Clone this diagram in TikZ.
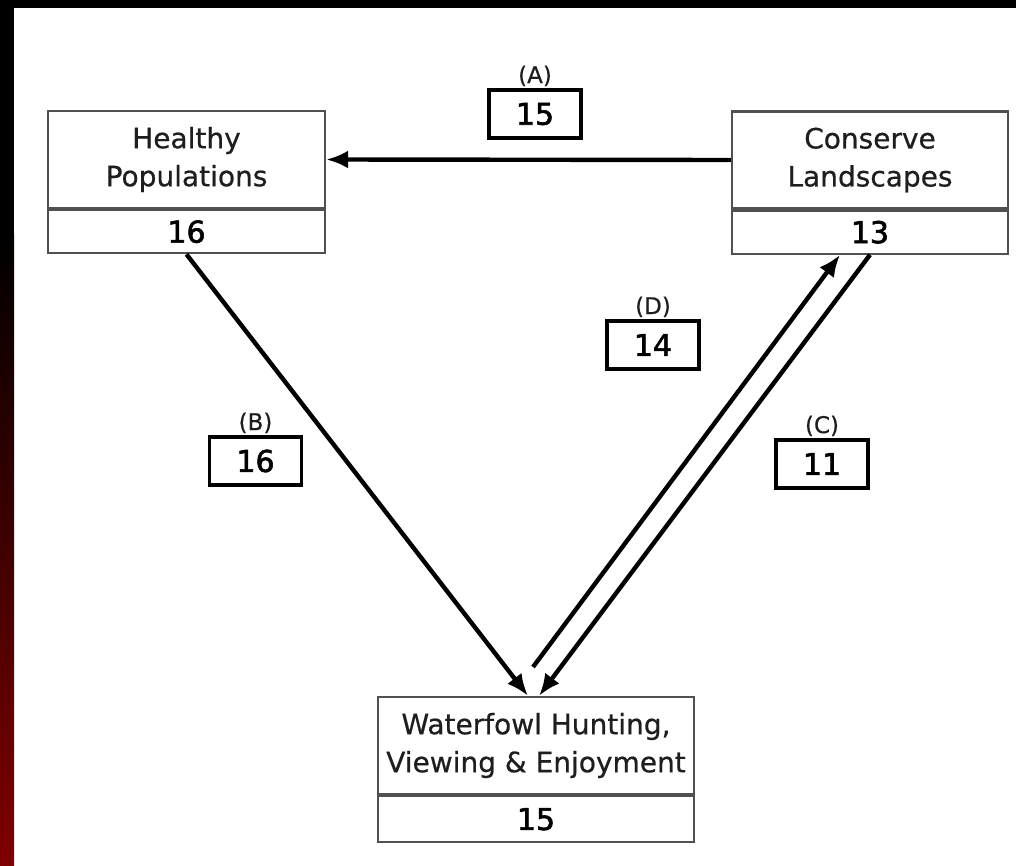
\documentclass[tikz,border=0pt]{standalone}
\usepackage{fontspec}
\setmainfont{DejaVu Sans}[FakeBold=0.6]
\newfontfamily\numfont{DejaVu Sans}[FakeBold=2]
\usetikzlibrary{arrows.meta,positioning}
\definecolor{boxline}{HTML}{505050}
\definecolor{textgray}{HTML}{1E1E1E}
\definecolor{stripred}{HTML}{800000}
\tikzset{
  goalbox/.style={draw=boxline, line width=2.2pt, minimum width=277pt,
                  minimum height=97pt, inner sep=0pt, align=center,
                  text=textgray, font=\fontsize{28}{38}\selectfont},
  scorebox/.style={draw=boxline, line width=2.2pt, minimum width=277pt,
                   minimum height=43pt, inner sep=0pt,
                   font=\numfont\fontsize{30}{32}\selectfont},
  linkbox/.style={draw, line width=3.4pt, minimum width=92pt,
                  minimum height=48pt, inner sep=0pt,
                  font=\numfont\fontsize{30}{32}\selectfont},
  linktag/.style={inner sep=1pt, text=textgray, font=\fontsize{23}{25}\selectfont},
  link/.style={line width=4.4pt, -{Latex[length=22pt,width=18pt]}},
}

\begin{document}
\begin{tikzpicture}[x=1pt, y=-1pt]
    \fill[black] (0,0) rectangle (1016,866);
    \fill[white] (14,8) rectangle (1016,866);
    \shade[top color=black, bottom color=stripred] (0,235) rectangle (14,866);

    \node[goalbox] (hp) at (186.5,159.5) {Healthy\\Populations};
    \node[scorebox, below=0pt of hp] (hpn) {16};
    \node[goalbox, minimum width=276pt] (cl) at (870,160) {Conserve\\Landscapes};
    \node[scorebox, minimum width=276pt, below=0pt of cl] (cln) {13};
    \node[goalbox, minimum width=316pt] (wf) at (536,745.5) {Waterfowl Hunting,\\Viewing \& Enjoyment};
    \node[scorebox, minimum width=316pt, minimum height=46pt, below=0pt of wf] (wfn) {15};

    \node[linkbox] (la) at (535,114) {15};
    \node[linktag, above=1pt of la] (ta) {(A)};
    \node[linkbox] (lb) at (255.5,461) {16};
    \node[linktag, above=1pt of lb] (tb) {(B)};
    \node[linkbox] (lc) at (822,464) {11};
    \node[linktag, above=1pt of lc] (tc) {(C)};
    \node[linkbox] (ld) at (653,345) {14};
    \node[linktag, above=1pt of ld] (td) {(D)};

    \coordinate (dstart) at (533,667);
    \draw[link] (cl.west) -- (hp.east);
    \draw[link] (hpn.south) -- ([xshift=-8pt]wf.north);
    \draw[link] (cln.south) -- ([xshift=3pt]wf.north);
    \draw[link] (dstart) -- ([xshift=-30pt]cln.south);
\end{tikzpicture}
\end{document}
